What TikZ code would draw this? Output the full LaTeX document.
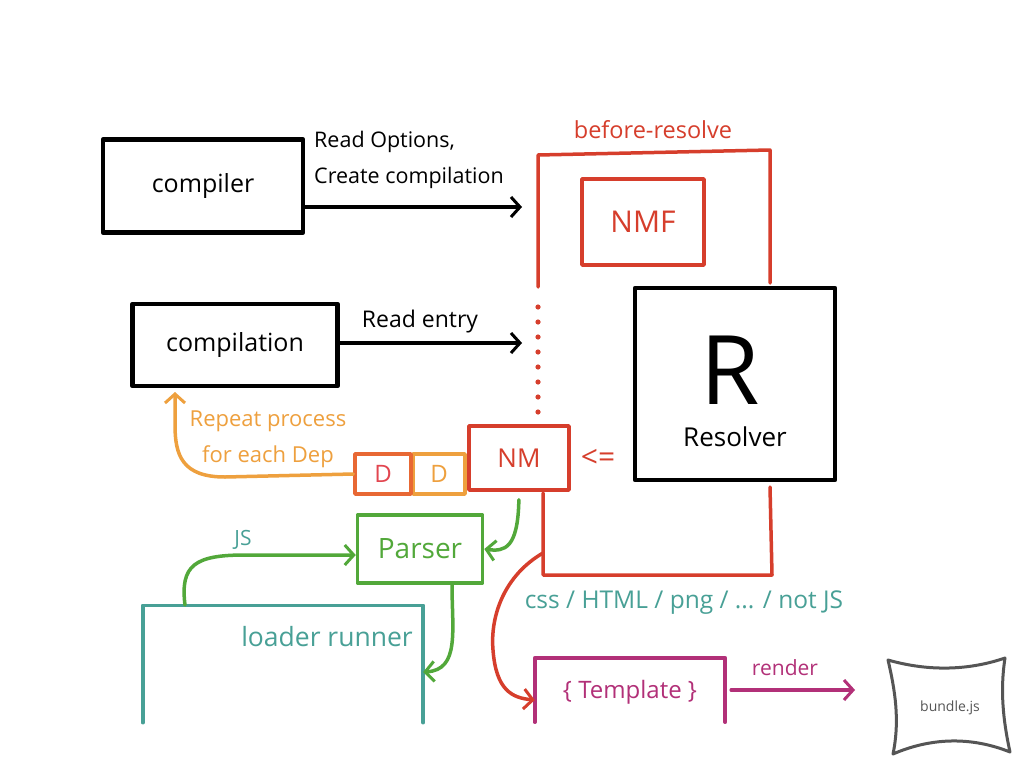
\documentclass[tikz,border=0pt]{standalone}
\usepackage{fontspec}
\setmainfont{Open Sans}
\usepackage{tikz}
\usetikzlibrary{arrows.meta, positioning}
\definecolor{BRred}{RGB}{214,62,44}
\definecolor{BRorange}{RGB}{238,160,62}
\definecolor{BRdeep}{RGB}{232,104,52}
\definecolor{BRpink}{RGB}{226,70,80}
\definecolor{BRgreen}{RGB}{82,168,58}
\definecolor{BRteal}{RGB}{72,160,150}
\definecolor{BRplum}{RGB}{178,48,120}
\definecolor{BRgrey}{RGB}{85,85,85}
\newcommand{\fs}[1]{\fontsize{#1}{#1}\selectfont}
\newcommand{\fsl}[2]{\fontsize{#1}{#2}\selectfont}
\tikzset{
  ink/.style={line width=3.5pt, line cap=round, line join=round},
  blackbox/.style={ink, draw=black, line width=4.5pt, inner sep=0pt, font=\fs{25}},
  redbox/.style={ink, draw=BRred, inner sep=0pt, text=BRred},
  hook/.style={ink, -{Straight Barb[length=9pt,width=20pt,line width=3pt]}},
  lbl/.style={inner sep=0pt, font=\fs{20}}
}
\begin{document}
\begin{tikzpicture}[x=1pt, y=-1pt]
\useasboundingbox[fill=white] (0,0) rectangle (1024,768);

\node[blackbox, minimum width=200pt, minimum height=93pt] (compiler) at (203,186) {compiler};
\node[lbl, anchor=north west, align=left, font=\fsl{21.5}{36}] (opts) at (314,131) {Read Options,\\Create compilation};
\coordinate (frameA) at (522,207);
\draw[hook] (compiler.east |- frameA) -- (frameA);

\node[blackbox, minimum width=205pt, minimum height=82pt] (compilation) at (235,345) {compilation};
\node[lbl, font=\fs{23}] (entry) at (420,322) {Read entry};
\coordinate (frameB) at (522,343);
\draw[hook] (compilation.east |- frameB) -- (frameB);

\node[lbl, text=BRred, font=\fs{23.5}] (before) at (653,130) {before-resolve};
\draw[ink, draw=BRred] (538,287) -- (538,155) -- (770,150) -- (770,283);
\draw[ink, draw=BRred] (770,487) -- (772,575) -- (543,575) -- (543,493);
\foreach \y in {307,322,...,412}
  \fill[BRred] (538,\y) circle (2.6pt);
\node[redbox, minimum width=122pt, minimum height=86pt, font=\fs{30}] (nmf) at (643,222) {NMF};

\node[blackbox, minimum width=200pt, minimum height=192pt] (resolver) at (735,384) {};
\node[inner sep=0pt, font=\fs{96}] (bigR) at (730,370) {R};
\node[lbl, font=\fs{26}] (reslbl) at (735,437) {Resolver};
\node[lbl, text=BRred, font=\fs{30}] (arrowsign) at (598,458) {<=};

\node[redbox, minimum width=100pt, minimum height=64pt, font=\fs{26}] (nm) at (519,458) {NM};
\node[ink, draw=BRorange, text=BRorange, inner sep=0pt, minimum width=52pt, minimum height=40pt, font=\fs{24}] (depB) at (439,474) {D};
\node[ink, draw=BRdeep, text=BRpink, inner sep=0pt, minimum width=56pt, minimum height=40pt, font=\fs{24}] (depA) at (383,474) {D};
\node[lbl, text=BRorange, align=center, font=\fsl{22}{36}] (repeat) at (268,439) {Repeat process\\for each Dep};
\coordinate (back) at (175,392);
\draw[hook, draw=BRorange] (depA.west) -- (225,477) .. controls (182,477) and (175,455) .. (175,425) -- (back);

\node[ink, draw=BRgreen, text=BRgreen, inner sep=0pt, minimum width=125pt, minimum height=68pt, font=\fs{28}] (parser) at (420,549) {Parser};
\draw[hook, draw=BRgreen, shorten <=8pt] (nm.south) .. controls (518,548) and (505,552) .. (parser.east);

\node[minimum width=280pt, minimum height=117pt, inner sep=0pt] (loader) at (283,664) {};
\draw[ink, draw=BRteal] (loader.south west) -- (loader.north west) -- (loader.north east) -- (loader.south east);
\node[lbl, text=BRteal, anchor=east, font=\fs{26.5}] (loaderlbl) at (413,637) {loader runner};
\node[lbl, text=BRteal, font=\fs{21}] (js) at (243,540) {JS};
\draw[hook, draw=BRgreen] (185,605) .. controls (180,565) and (195,555) .. (245,555) -- ([yshift=-6pt]parser.west);
\draw[hook, draw=BRgreen] ([xshift=32pt]parser.south) .. controls (452,630) and (460,670) .. ([yshift=-8pt]loader.east);

\node[minimum width=190pt, minimum height=64pt, inner sep=0pt] (template) at (630,690) {};
\draw[ink, draw=BRplum] (template.south west) -- (template.north west) -- (template.north east) -- (template.south east);
\node[lbl, text=BRplum, font=\fs{24}] (templbl) at (630,692) {\{ Template \}};
\node[lbl, text=BRteal, font=\fs{24.5}] (types) at (684,603) {css / HTML / png / ... / not JS};
\coordinate (frameC) at (543,553);
\draw[hook, draw=BRred] (frameC) .. controls (505,575) and (490,615) .. (493,650) .. controls (496,690) and (512,698) .. ([yshift=-10pt]template.west);

\node[lbl, text=BRplum, font=\fs{21}] (render) at (785,668) {render};
\coordinate (out) at (855,690);
\draw[hook, draw=BRplum] ([xshift=6pt]template.east) -- (out);

\draw[ink, draw=BRgrey, line width=3pt] (888,660) .. controls (930,672) and (970,670) .. (1005,658) .. controls (1000,690) and (1003,720) .. (1010,752) .. controls (970,736) and (930,738) .. (893,754) .. controls (900,720) and (895,690) .. cycle;
\node[lbl, text=BRgrey, font=\fs{14}] (bundle) at (950,708) {bundle.js};
\end{tikzpicture}
\end{document}
